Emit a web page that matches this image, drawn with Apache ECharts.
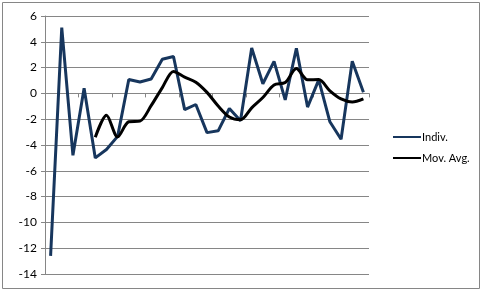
<!DOCTYPE html>
<html>
<head>
<meta charset="utf-8">
<script src="https://cdn.jsdelivr.net/npm/echarts@6/dist/echarts.min.js"></script>
<style>
html,body{margin:0;padding:0;background:#fff;}
#chart{width:483px;height:291px;}
</style>
</head>
<body>
<div id="chart"></div>
<script>
var categories = ['1','2','3','4','5','6','7','8','9','10','11','12','13','14','15','16','17','18','19','20','21','22','23','24','25','26','27','28','29'];
var indiv = [-12.6, 5.1, -4.8, 0.4, -5.0, -4.35, -3.33, 1.08, 0.88, 1.12, 2.65, 2.86, -1.26, -0.86, -3.04, -2.9, -1.17, -2.12, 3.52, 0.75, 2.48, -0.5, 3.5, -1.06, 1.05, -2.2, -3.55, 2.5, 0.08];
var movAvg = [null, null, null, null, -3.4, -1.7, -3.37, -2.2, -2.15, -0.95, 0.45, 1.7, 1.26, 0.87, 0.08, -0.98, -1.83, -2.05, -1.12, -0.32, 0.65, 0.84, 1.93, 1.05, 1.07, 0.2, -0.43, -0.66, -0.42];
var yTicks = {min: -14, max: 6, interval: 2};

var chart = echarts.init(document.getElementById('chart'), null, {renderer: 'canvas'});
var gridColor = '#868686';
chart.setOption({
  animation: false,
  backgroundColor: '#ffffff',
  graphic: [{
    type: 'rect',
    shape: {x: 2.5, y: 2.5, width: 477, height: 286},
    style: {fill: 'none', stroke: gridColor, lineWidth: 1},
    silent: true
  }],
  grid: {left: 45, top: 16, width: 324, height: 258, containLabel: false},
  legend: {
    orient: 'vertical',
    left: 388,
    top: 125,
    itemWidth: 28,
    itemHeight: 2,
    itemGap: 7,
    icon: 'rect',
    itemStyle: {borderWidth: 0},
    lineStyle: {width: 0},
    textStyle: {fontFamily: 'Lato', fontSize: 11, color: '#000', lineHeight: 14, padding: [0,0,0,-4]},
    data: ['Indiv.', 'Mov. Avg.']
  },
  xAxis: {
    type: 'category',
    data: categories,
    boundaryGap: true,
    axisLine: {show: true, onZero: true, lineStyle: {color: gridColor, width: 1}},
    axisTick: {show: true, interval: 2, length: 4, lineStyle: {color: gridColor}},
    axisLabel: {show: false},
    splitLine: {show: false}
  },
  yAxis: {
    type: 'value',
    min: yTicks.min,
    max: yTicks.max,
    interval: yTicks.interval,
    axisLine: {show: true, lineStyle: {color: gridColor, width: 1}},
    axisTick: {show: true, length: 4, lineStyle: {color: gridColor}},
    axisLabel: {color: '#000', fontFamily: 'Lato', fontSize: 12, margin: 8},
    splitLine: {show: true, lineStyle: {color: gridColor, width: 1}}
  },
  series: [{
    name: 'Indiv.',
    type: 'line',
    data: indiv,
    showSymbol: false,
    symbol: 'none',
    lineStyle: {color: '#17365D', width: 3},
    itemStyle: {color: '#17365D'},
    z: 2
  }, {
    name: 'Mov. Avg.',
    type: 'line',
    data: movAvg,
    smooth: 0.3,
    showSymbol: false,
    symbol: 'none',
    lineStyle: {color: '#000000', width: 3},
    itemStyle: {color: '#000000'},
    z: 3
  }]
});
</script>
</body>
</html>
